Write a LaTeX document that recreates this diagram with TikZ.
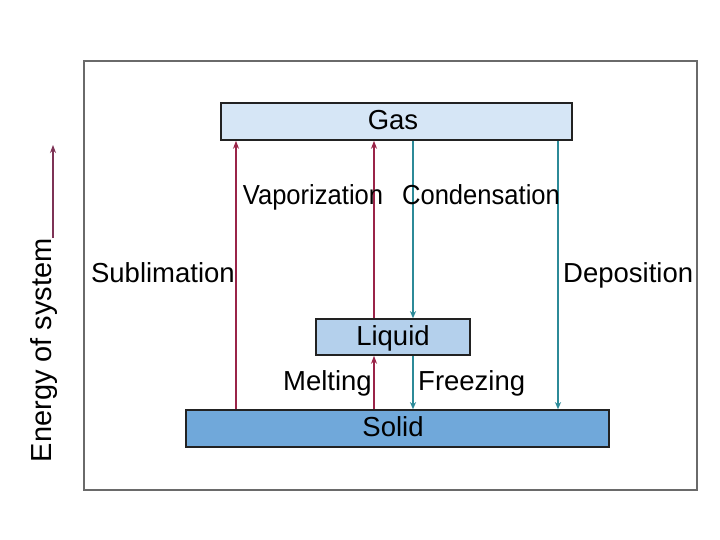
\documentclass[tikz,border=0pt]{standalone}
\usepackage{fontspec}
\setmainfont{Liberation Sans}
\usetikzlibrary{arrows.meta}
\definecolor{gasfill}{HTML}{D6E6F6}
\definecolor{liqfill}{HTML}{B4D0EC}
\definecolor{solfill}{HTML}{70A8DA}
\definecolor{upcol}{HTML}{9A2448}
\definecolor{downcol}{HTML}{2C8A98}
\definecolor{axcol}{HTML}{7E3356}
\definecolor{framecol}{HTML}{6A6A6A}
\definecolor{boxline}{HTML}{222222}
\tikzset{
  phase/.style={draw=boxline, line width=1.6pt, inner sep=0pt},
  lbl/.style={inner sep=0pt, font=\fontsize{27.5}{30}\selectfont},
  uparrow/.style={draw=upcol, line width=1.1pt, -{Stealth[length=8pt,width=6pt]}},
  downarrow/.style={draw=downcol, line width=1.1pt, -{Stealth[length=7pt,width=6pt,inset=2pt]}},
}
\begin{document}
\begin{tikzpicture}[x=1pt,y=-1pt]
\useasboundingbox[fill=white] (0,0) rectangle (720,540);
\draw[framecol, line width=1.8pt] (84,61) rectangle (697,490);
% boxes
\node[phase, fill=gasfill, minimum width=351pt, minimum height=37pt] (gas) at (396.5,121.5) {};
\node[phase, fill=liqfill, minimum width=154pt, minimum height=36pt] (liquid) at (393,337) {};
\node[phase, fill=solfill, minimum width=423pt, minimum height=37pt] (solid) at (397.5,428.5) {};
\node[lbl, anchor=base] (gast) at (393,129.5) {Gas};
\node[lbl, anchor=base] (liqt) at (393,345) {Liquid};
\node[lbl, anchor=base] (solt) at (393,436.5) {Solid};
% connectors
\draw[uparrow] (solid.north -| 236,0) -- (gas.south -| 236,0);
\draw[uparrow] (liquid.north -| 374,0) -- (gas.south -| 374,0);
\draw[uparrow] (solid.north -| 374,0) -- (liquid.south -| 374,0);
\draw[downarrow] (gas.south -| 413,0) -- (liquid.north -| 413,0);
\draw[downarrow] (liquid.south -| 413,0) -- (solid.north -| 413,0);
\draw[downarrow] (gas.south -| 558,0) -- (solid.north -| 558,0);
% labels
\node[lbl, anchor=base] (vap) at (313,205) {\scalebox{0.93}[1]{Vaporization}};
\node[lbl, anchor=base] (cond) at (481,205) {\scalebox{0.93}[1]{Condensation}};
\node[lbl, anchor=base east] (subl) at (235,282) {Sublimation};
\node[lbl, anchor=base west] (depo) at (563,282) {Deposition};
\node[lbl, anchor=base east] (melt) at (372,390) {Melting};
\node[lbl, anchor=base west] (frz) at (418,390) {Freezing};
% energy axis
\node[inner sep=0pt, font=\fontsize{29}{32}\selectfont, rotate=90, anchor=base east] (energy) at (51,238) {Energy of system};
\coordinate (axtop) at (53,145);
\draw[axcol, line width=1.1pt, -{Stealth[length=8pt,width=6pt]}] (energy.base east) ++(2,0) -- (axtop);
\end{tikzpicture}
\end{document}
